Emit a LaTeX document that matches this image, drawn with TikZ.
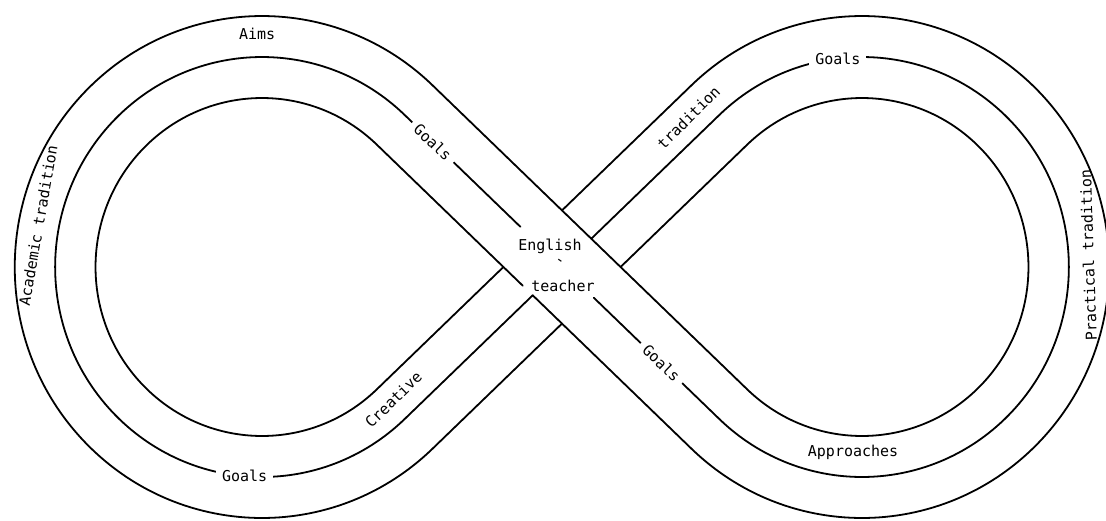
\documentclass[tikz,border=0pt]{standalone}
\usepackage{fontspec}
\newfontfamily\labfont{DejaVu Sans Mono}
\usetikzlibrary{calc}
\begin{document}
\begin{tikzpicture}[x=1pt,y=1pt,xscale=0.985,
  band/.style={line width=1.8pt, line cap=round, line join=round},
  lbl/.style={font=\labfont\fontsize{15}{17}\selectfont, inner sep=0pt},
  gl/.style={lbl, fill=white, inner xsep=6pt, inner ysep=1pt}]
\useasboundingbox (-570.56,-253) rectangle (552.28,267);
\fill[white] (-570.56,-253) rectangle (552.28,267);
\def\lA{304.6}\def\lR{210}\def\lD{41}
\pgfmathsetmacro\th{90-asin(\lR/\lA)}
\pgfmathsetmacro\ri{\lR-\lD}
\pgfmathsetmacro\ro{\lR+\lD}
\coordinate (C1) at (-\lA,0);
\coordinate (C2) at (\lA,0);
% "\" band ends
\coordinate (P3a) at ($(C1)+(\th:\ro)$);
\coordinate (P3b) at ($(C2)+(180+\th:\ri)$);
\coordinate (Ma) at ($(C1)+(\th:\lR)$);
\coordinate (Mb) at ($(C2)+(180+\th:\lR)$);
\coordinate (P1a) at ($(C1)+(\th:\ri)$);
\coordinate (P1b) at ($(C2)+(180+\th:\ro)$);
% "/" band ends
\coordinate (Ua) at ($(C1)+(-\th:\ri)$);
\coordinate (Ub) at ($(C2)+(180-\th:\ro)$);
\coordinate (Na) at ($(C1)+(-\th:\lR)$);
\coordinate (Nb) at ($(C2)+(180-\th:\lR)$);
\coordinate (Va) at ($(C1)+(-\th:\ro)$);
\coordinate (Vb) at ($(C2)+(180-\th:\ri)$);
% crossings
\coordinate (XU1) at (intersection of Ua--Ub and P1a--P1b);
\coordinate (XU3) at (intersection of Ua--Ub and P3a--P3b);
\coordinate (XN1) at (intersection of Na--Nb and P1a--P1b);
\coordinate (XN3) at (intersection of Na--Nb and P3a--P3b);
\coordinate (XV1) at (intersection of Va--Vb and P1a--P1b);
\coordinate (XV3) at (intersection of Va--Vb and P3a--P3b);
\coordinate (G1) at ($(XN1)!14pt!(P1a)$);
\coordinate (MG1) at ($(Ma)!0.368!(Mb)$);
\coordinate (MG2) at ($(Ma)!0.601!(Mb)$);
% left loop arcs
\draw[band] (Va) arc[start angle=-\th, end angle=-360+\th, radius=\ro];
\draw[band] (Na) arc[start angle=-\th, end angle=-360+\th, radius=\lR];
\draw[band] (Ua) arc[start angle=-\th, end angle=-360+\th, radius=\ri];
% right loop arcs
\draw[band] (P3b) arc[start angle=180+\th, end angle=540-\th, radius=\ri];
\draw[band] (Mb) arc[start angle=180+\th, end angle=540-\th, radius=\lR];
\draw[band] (P1b) arc[start angle=180+\th, end angle=540-\th, radius=\ro];
% "\" band (over)
\draw[band] (P3a) -- (P3b);
\draw[band] (Ma) -- (MG1) (MG2) -- (Mb);
\draw[band] (P1a) -- (G1) (XN1) -- (P1b);
% "/" band (under)
\draw[band] (Ua) -- (XU1) (XU3) -- (Ub);
\draw[band] (Na) -- (XN1) (XN3) -- (Nb);
\draw[band] (Va) -- (XV1) (XV3) -- (Vb);
% labels
\node[lbl] (aims) at ($(C1)+(91.2:233)$) {Aims};
\node[lbl, rotate=80] (acad) at ($(C1)+(169.6:231)$) {Academic tradition};
\node[lbl, rotate=92] (prac) at ($(C2)+(3:230)$) {Practical tradition};
\node[lbl, rotate=45] (trad) at ($(C2)+(139.7:231)$) {tradition};
\node[lbl, rotate=44] (crea) at ($(C1)+(-44.8:188)$) {Creative};
\node[lbl] (appr) at ($(C2)+(267.2:186)$) {Approaches};
\node[lbl] (eng) at (-12.2,21) {English};
\node[lbl, rotate=-35] (dash) at (-3,5) {-};
\node[lbl] (tea) at (1,-19) {teacher};
\node[gl] (g3) at ($(C2)+(96.7:210)$) {Goals};
\node[gl] (g4) at ($(C1)+(265.2:210)$) {Goals};
\path (Ma) -- (Mb) node[gl, sloped, pos=0.09] (g1) {Goals}
                   node[gl, sloped, pos=0.816] (g2) {Goals};
\end{tikzpicture}
\end{document}
